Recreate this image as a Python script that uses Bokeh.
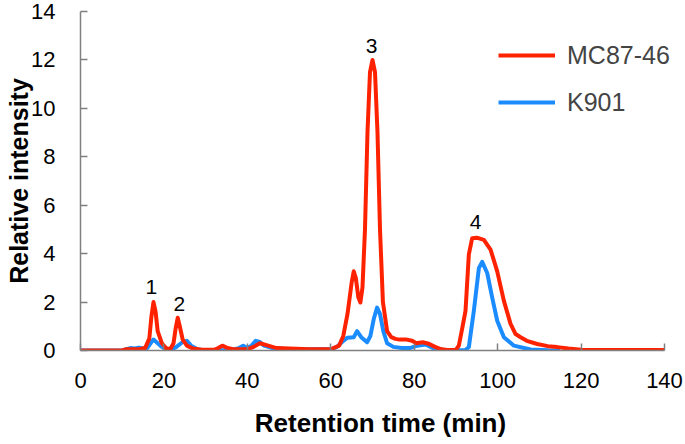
from bokeh.plotting import figure
from bokeh.models import Range1d, FixedTicker, Legend, LegendItem
from bokeh.core.properties import value
from bokeh.embed import file_html
from bokeh.resources import INLINE

# Retention time (min) and relative intensity
mc_time = [0, 10, 11, 14, 15.5, 16.5, 17, 17.5, 18, 18.5, 19.5, 20.5, 21.5, 22.3, 22.8, 23.3,
           23.8, 24.5, 25.5, 27, 29, 32, 33, 34, 35, 36.5, 40, 41.5, 43, 45, 47, 50, 55, 60,
           62, 63, 64, 65, 65.5, 66, 66.6, 67.1, 67.6, 68.2, 68.8, 69.4, 70, 70.6, 71.2, 71.8,
           72.5, 73.5, 74.5, 75.5, 76.5, 78.2, 79.5, 80.5, 82, 83.5, 85, 86.5, 88, 90, 90.7,
           91.5, 92.3, 93.1, 93.9, 95, 96.7, 98.3, 99.9, 101.5, 103.1, 104.3, 105.5, 107,
           109.5, 112, 114.3, 117, 120, 140]
mc_value = [0, 0, 0.05, 0.05, 0.1, 0.5, 1.4, 2.0, 1.6, 0.8, 0.3, 0.1, 0.05, 0.3, 0.9, 1.35,
            1.0, 0.45, 0.2, 0.08, 0.03, 0.03, 0.1, 0.2, 0.12, 0.05, 0.05, 0.15, 0.3, 0.2, 0.1,
            0.08, 0.05, 0.05, 0.2, 0.6, 1.5, 2.8, 3.27, 3.0, 2.2, 1.98, 2.6, 5.0, 9.0, 11.5,
            12.0, 11.5, 9.0, 5.0, 2.0, 0.8, 0.55, 0.48, 0.45, 0.45, 0.4, 0.3, 0.34, 0.28,
            0.15, 0.05, 0.02, 0.03, 0.2, 0.9, 1.64, 3.97, 4.64, 4.66, 4.57, 4.17, 3.27, 2.05,
            1.1, 0.68, 0.55, 0.4, 0.27, 0.18, 0.14, 0.08, 0.03, 0.02]

k_time = [0, 10, 11, 12, 13, 14, 15, 16, 17, 17.5, 18.5, 19.5, 20.5, 21.5, 23, 24.5, 25.5,
          26.5, 28, 30, 36, 38, 39, 40, 41, 42, 43, 44, 46, 50, 55, 60, 61.5, 63, 64, 65.5,
          66.3, 67.3, 68.7, 69.5, 70.3, 71.1, 71.8, 72.6, 73.5, 75, 77, 79, 80.7, 82.7, 84.7,
          87, 90, 92.3, 93.1, 94.3, 95.5, 96.3, 97.5, 98.7, 99.9, 101.5, 103.9, 107.9, 112, 115]
k_value = [0, 0, 0.05, 0.1, 0.08, 0.12, 0.08, 0.1, 0.35, 0.45, 0.3, 0.15, 0.05, 0.02, 0.15,
           0.35, 0.4, 0.2, 0.05, 0.0, 0.02, 0.1, 0.2, 0.1, 0.2, 0.4, 0.35, 0.2, 0.1, 0.05,
           0.05, 0.05, 0.15, 0.4, 0.53, 0.55, 0.8, 0.55, 0.34, 0.6, 1.3, 1.77, 1.5, 0.8, 0.3,
           0.15, 0.1, 0.1, 0.2, 0.25, 0.08, 0.03, 0.0, 0.02, 0.14, 1.64, 3.4, 3.66, 3.2, 2.18,
           1.23, 0.55, 0.2, 0.04, 0.01, 0.0]

peak_names = ["1", "2", "3", "4"]
peak_time = [17.0, 23.7, 69.8, 94.7]
peak_label_y = [2.33, 1.65, 12.3, 5.01]

x_ticks = [0, 20, 40, 60, 80, 100, 120, 140]
y_ticks = [0, 2, 4, 6, 8, 10, 12, 14]

RED = "#FF2200"
BLUE = "#1A8CFF"
FONT = "Liberation Sans"

# x range runs a little past 140 so the legend text is not clipped; axis is bounded at 0-140
p = figure(width=685, height=444, output_backend="svg", toolbar_location=None,
           x_range=Range1d(0, 143.84), y_range=Range1d(0, 14),
           min_border_left=80, min_border_right=5, min_border_top=11, min_border_bottom=94)
p.outline_line_color = None
p.grid.visible = False

l_k = p.line(k_time, k_value, line_color=BLUE, line_width=4, line_join="round")
l_mc = p.line(mc_time, mc_value, line_color=RED, line_width=4, line_join="round")

p.text(x=peak_time, y=peak_label_y, text=peak_names,
       text_font=value(FONT), text_font_size="21px", text_align="center",
       text_baseline="bottom", text_color="#000000")

for ax in (p.xaxis[0], p.yaxis[0]):
    ax.axis_line_color = "#808080"
    ax.axis_line_width = 1.5
    ax.major_tick_line_color = "#808080"
    ax.major_tick_line_width = 1.5
    ax.major_tick_in = 7
    ax.major_tick_out = 0
    ax.minor_tick_line_color = None
    ax.major_label_text_font = FONT
    ax.major_label_text_font_size = "22px"
    ax.major_label_text_color = "#000000"
    ax.axis_label_text_font = FONT
    ax.axis_label_text_font_style = "bold"
    ax.axis_label_text_color = "#000000"

p.xaxis.bounds = (0, 140)
p.xaxis.ticker = FixedTicker(ticks=x_ticks)
p.yaxis.ticker = FixedTicker(ticks=y_ticks)
p.xaxis.axis_label = "Retention time (min)"
p.yaxis.axis_label = "Relative intensity"
p.xaxis.axis_label_text_font_size = "26px"
p.yaxis.axis_label_text_font_size = "25px"
p.xaxis.major_label_standoff = 22
p.yaxis.major_label_standoff = 25
p.xaxis.axis_label_standoff = 17
p.yaxis.axis_label_standoff = -5

legend = Legend(items=[LegendItem(label="MC87-46", renderers=[l_mc]),
                       LegendItem(label="K901", renderers=[l_k])],
                location=(418, 233), orientation="vertical",
                label_text_font=FONT, label_text_font_size="25px",
                glyph_width=57, glyph_height=30, label_height=30, spacing=17,
                label_standoff=12, padding=0, margin=0,
                border_line_color=None, background_fill_alpha=0)
p.add_layout(legend)

open("out.html", "w").write(file_html(p, INLINE))
